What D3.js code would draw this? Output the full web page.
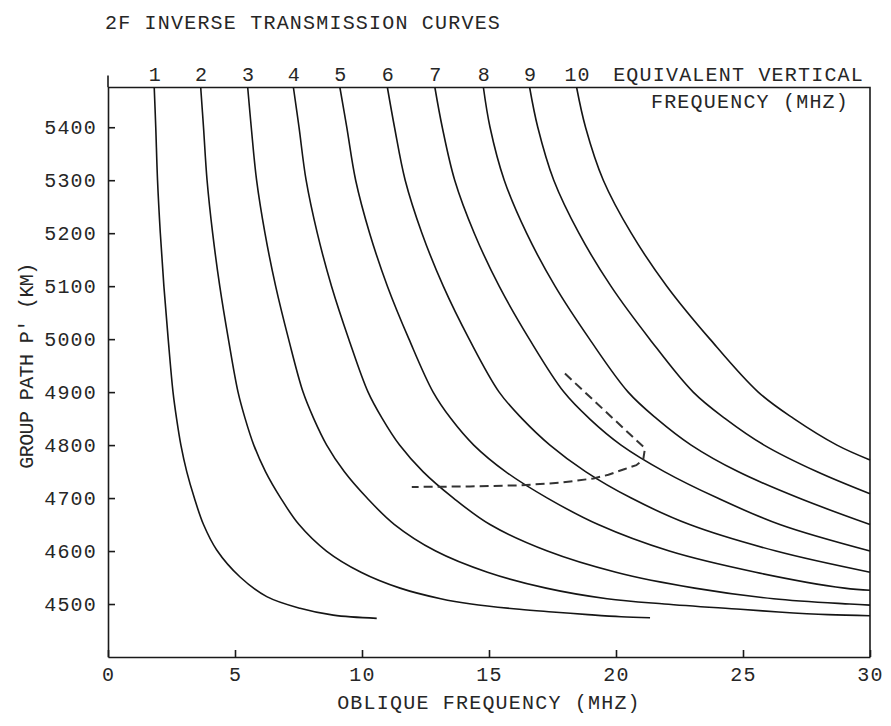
<!DOCTYPE html>
<html>
<head>
<meta charset="utf-8">
<script src="https://cdn.jsdelivr.net/npm/d3@7"></script>
<style>
  body { margin: 0; background: #fff; }
  text { font-family: 'Liberation Mono', 'DejaVu Sans Mono', monospace; font-size: 20px; letter-spacing: 1.2px; fill: #262626; }
</style>
</head>
<body>
<svg id="chart" width="891" height="726"></svg>
<script>
// Equivalent vertical frequency of each curve (MHz)
var vertFreqs = [1, 2, 3, 4, 5, 6, 7, 8, 9, 10];

// Curves as [oblique frequency MHz, group path km]
var curve1 = [[1.82,5475],[1.88,5400],[1.95,5300],[2.06,5200],[2.20,5100],[2.37,5000],[2.56,4900],[2.70,4850],[2.87,4800],[3.10,4750],[3.40,4700],[3.76,4650],[4.28,4602],[5.2,4551],[6.25,4514],[7.56,4492],[8.87,4479],[10.58,4473]];
var curve2 = [[3.65,5475],[3.76,5400],[3.90,5300],[4.12,5200],[4.40,5100],[4.74,5000],[5.12,4900],[5.40,4850],[5.74,4800],[6.20,4750],[6.80,4700],[7.52,4650],[8.60,4600],[9.96,4560],[11.5,4530],[13.1,4510],[14.3,4500],[16.2,4490],[17.5,4485],[18.9,4480],[20.2,4476],[21.34,4474]];
var curve3 = [[5.50,5475],[5.64,5400],[5.85,5300],[6.18,5200],[6.60,5100],[7.11,5000],[7.68,4900],[8.10,4850],[8.61,4800],[9.30,4750],[10.2,4700],[11.28,4650],[12.9,4600],[14.94,4560],[17.25,4530],[19.65,4510],[21.9,4500],[24.9,4490],[26.4,4485],[28.35,4480],[30,4478]];
var curve4 = [[7.30,5475],[7.52,5400],[7.80,5300],[8.24,5200],[8.80,5100],[9.48,5000],[10.24,4900],[10.8,4850],[11.48,4800],[12.4,4750],[13.6,4700],[15.04,4650],[17.3,4600],[20.0,4560],[23.1,4530],[26.2,4510],[29.2,4500],[30,4498]];
var curve5 = [[9.13,5475],[9.40,5400],[9.75,5300],[10.3,5200],[11.0,5100],[11.85,5000],[12.8,4900],[13.5,4850],[14.4,4800],[15.65,4750],[17.3,4700],[19.3,4650],[22.1,4600],[25.5,4560],[29.0,4530],[30,4526]];
var curve6 = [[11.0,5475],[11.28,5400],[11.7,5300],[12.36,5200],[13.2,5100],[14.22,5000],[15.4,4900],[16.3,4850],[17.4,4800],[18.8,4750],[20.6,4700],[22.9,4650],[26.3,4600],[30,4560]];
var curve7 = [[12.87,5475],[13.16,5400],[13.65,5300],[14.42,5200],[15.4,5100],[16.59,5000],[17.95,4900],[18.95,4850],[20.2,4800],[21.9,4750],[24.0,4700],[26.45,4650],[30,4600]];
var curve8 = [[14.78,5475],[15.04,5400],[15.6,5300],[16.48,5200],[17.6,5100],[18.96,5000],[20.48,4900],[21.6,4850],[22.96,4800],[24.8,4750],[27.2,4700],[30,4650]];
var curve9 = [[16.6,5475],[16.92,5400],[17.55,5300],[18.54,5200],[19.8,5100],[21.33,5000],[23.04,4900],[24.3,4850],[25.83,4800],[27.9,4750],[30,4708]];
var curve10 = [[18.45,5475],[18.8,5400],[19.5,5300],[20.6,5200],[22.0,5100],[23.7,5000],[25.6,4900],[27.0,4850],[28.7,4800],[30,4772]];
var curves = [curve1, curve2, curve3, curve4, curve5, curve6, curve7, curve8, curve9, curve10];

// Dashed path
var dashed = [[17.99,4935],[21.14,4794],[21.07,4772],[20.8,4762],[20.35,4755],[19.7,4744],[19.11,4737],[17.8,4729],[16.22,4724],[14.25,4722],[11.96,4721]];

// Axis ticks
var xTicks = [0, 5, 10, 15, 20, 25, 30];
var yTicks = [4500, 4600, 4700, 4800, 4900, 5000, 5100, 5200, 5300, 5400];

var svg = d3.select('#chart');

var x = d3.scaleLinear().domain([0, 30]).range([108, 870]);
var y = d3.scaleLinear().domain([4400, 5475]).range([657, 87.5]);

var font = "'Liberation Mono', 'DejaVu Sans Mono', monospace";

// Title
svg.append('text')
   .attr('x', 105)
   .attr('y', 29)
   .text('2F INVERSE TRANSMISSION CURVES');

// Bottom axis
var xAxis = svg.append('g')
   .attr('transform', 'translate(0,' + y(4400) + ')')
   .call(d3.axisBottom(x).tickValues(xTicks).tickSizeInner(-7).tickSizeOuter(0).tickPadding(10));
xAxis.selectAll('text').style('font-family', font).style('font-size', '20px');

// Left axis
var yAxis = svg.append('g')
   .attr('transform', 'translate(' + x(0) + ',0)')
   .call(d3.axisLeft(y).tickValues(yTicks).tickFormat(d3.format('d')).tickSizeInner(-7).tickSizeOuter(0).tickPadding(11));
yAxis.selectAll('text').style('font-family', font).style('font-size', '20px');

svg.selectAll('.domain, .tick line').attr('stroke', '#1a1a1a').attr('stroke-width', 1.6);

// Frame: top and right sides, left axis poking above the top
svg.append('path')
   .attr('d', 'M' + x(0) + ',' + y(5475) + 'H' + x(30) + 'V' + y(4400) + 'M' + x(0) + ',' + (y(5475) - 12) + 'V' + y(5475))
   .attr('fill', 'none')
   .attr('stroke', '#1a1a1a')
   .attr('stroke-width', 1.6);

// Curves
var line = d3.line()
   .x(function(d) { return x(d[0]); })
   .y(function(d) { return y(d[1]); })
   .curve(d3.curveCatmullRom.alpha(0.5));

svg.selectAll('path.curve')
   .data(curves)
   .enter()
   .append('path')
   .attr('class', 'curve')
   .attr('d', line)
   .attr('fill', 'none')
   .attr('stroke', '#151515')
   .attr('stroke-width', 1.6);

// Curve labels along the top
svg.selectAll('text.vf')
   .data(vertFreqs)
   .enter()
   .append('text')
   .attr('class', 'vf')
   .attr('x', function(d, i) { return x(curves[i][0][0]) + 1; })
   .attr('y', 81)
   .attr('text-anchor', 'middle')
   .text(function(d) { return d; });

svg.append('text')
   .attr('x', 864)
   .attr('y', 81)
   .attr('text-anchor', 'end')
   .text('EQUIVALENT VERTICAL');
svg.append('text')
   .attr('x', 849)
   .attr('y', 108)
   .attr('text-anchor', 'end')
   .text('FREQUENCY (MHZ)');

// Dashed line
svg.append('path')
   .attr('d', d3.line().x(function(d) { return x(d[0]); }).y(function(d) { return y(d[1]); })(dashed))
   .attr('fill', 'none')
   .attr('stroke', '#333')
   .attr('stroke-width', 2)
   .attr('stroke-dasharray', '9,5');

// Axis titles
svg.append('text')
   .attr('x', 489)
   .attr('y', 709)
   .attr('text-anchor', 'middle')
   .text('OBLIQUE FREQUENCY (MHZ)');
svg.append('text')
   .attr('transform', 'translate(33,366) rotate(-90)')
   .attr('text-anchor', 'middle')
   .style('letter-spacing', '-0.6px')
   .text("GROUP PATH P' (KM)");
</script>
</body>
</html>
